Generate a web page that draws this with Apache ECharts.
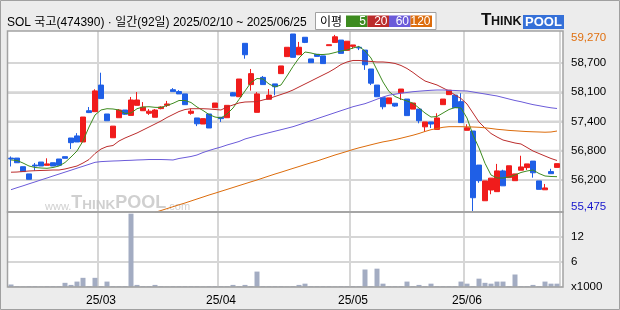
<!DOCTYPE html>
<html><head><meta charset="utf-8">
<script src="https://cdn.jsdelivr.net/npm/echarts@6/dist/echarts.min.js"></script>
<style>
html,body{margin:0;padding:0;background:#ececec}
#wrap{position:relative;width:620px;height:310px;background:#ececec}
#panel{position:absolute;left:8px;top:31px;width:555px;height:256px;background:#fff}
#c{position:absolute;left:0;top:0;width:620px;height:310px}
</style>
</head><body><div id="wrap"><div id="panel"></div><div id="c"></div></div><script>
const dates = [
'25/02/10','25/02/11','25/02/12','25/02/13','25/02/14','25/02/17','25/02/18','25/02/19','25/02/20','25/02/21','25/02/24','25/02/25','25/02/26','25/02/27','25/02/28',
'25/03/04','25/03/05','25/03/06','25/03/07','25/03/10','25/03/11','25/03/12','25/03/13','25/03/14','25/03/17','25/03/18','25/03/19','25/03/20','25/03/21','25/03/24','25/03/25','25/03/26','25/03/27','25/03/28','25/03/31',
'25/04/01','25/04/02','25/04/03','25/04/04','25/04/07','25/04/08','25/04/09','25/04/10','25/04/11','25/04/14','25/04/15','25/04/16','25/04/17','25/04/18','25/04/21','25/04/22','25/04/23','25/04/24','25/04/25','25/04/28','25/04/29','25/04/30',
'25/05/02','25/05/07','25/05/08','25/05/09','25/05/12','25/05/13','25/05/14','25/05/15','25/05/16','25/05/19','25/05/20','25/05/21','25/05/22','25/05/23','25/05/26','25/05/27','25/05/28','25/05/29','25/05/30',
'25/06/02','25/06/04','25/06/05','25/06/09','25/06/10','25/06/11','25/06/12','25/06/13','25/06/16','25/06/17','25/06/18','25/06/19','25/06/20','25/06/23','25/06/24','25/06/25'
];
const open = [56610,56610,56425,56270,56460,56525,56455,56510,56590,56640,
57040,57085,56955,57625,57605,58175,57555,57045,57475,57640,
57525,57740,57625,57570,57485,57670,57740,58075,58035,57985,
57570,57470,57340,57555,57690,57485,57475,58010,57925,59070,
58185,57590,58340,57870,58200,58420,58785,59270,58825,59200,
58735,58835,58800,59020,59090,59140,58920,59005,58985,58925,
58520,58175,57905,57775,57785,58010,57875,57660,57660,57280,
57385,57225,57755,57970,57960,57820,57205,57190,56460,55695,
55925,55890,56335,56190,56125,56350,56405,56545,56120,55930,
56320,56410];
const close = [56590,56510,56320,56155,56440,56440,56485,56440,56455,56605,
56940,56955,57490,57585,58050,57885,57410,57295,57640,57550,
57855,57855,57700,57615,57640,57705,57770,58035,57985,57755,
57615,57345,57455,57255,57790,57455,57740,57940,58305,58825,
58420,57985,58185,57960,58140,58585,58985,58770,58985,59090,
58655,58790,58635,59040,59210,58855,59115,59035,58970,58610,
58215,57925,57710,57900,57725,58090,57520,57790,57410,57385,
57340,57470,57875,58065,57690,57370,57260,55760,56125,56120,
56180,56335,56015,56445,56270,56420,56485,56295,55940,55970,
56275,56490];
const low = [56430,56510,56320,56155,56340,56440,56455,56440,56455,56605,
56805,56955,56955,57575,57605,57885,57410,57045,57475,57535,
57525,57740,57625,57535,57485,57655,57705,58035,57985,57755,
57540,57295,57340,57255,57690,57385,57475,57940,57925,58740,
58055,57590,58185,57870,57955,58420,58785,58770,58825,59075,
58655,58790,58635,59020,59090,58855,58920,58955,58925,58500,
58175,57925,57655,57775,57710,57855,57520,57660,57355,57175,
57255,57225,57755,57970,57690,57370,57205,55475,56080,55695,
55835,55890,56015,56190,56125,56350,56355,56190,55940,55930,
56275,56410];
const high = [56645,56610,56425,56270,56505,56525,56605,56510,56590,56640,
57040,57145,57490,57705,58085,58440,57555,57295,57660,57640,
57920,58025,57810,57660,57660,57720,57835,58110,58065,57985,
57670,57470,57455,57555,57790,57485,57740,58025,58305,59070,
58520,58025,58370,58090,58200,58585,58985,59270,59100,59200,
58735,58835,58800,59040,59250,59140,59115,59035,59015,58925,
58520,58175,57905,57900,57785,58090,57875,57790,57660,57385,
57385,57570,57875,58065,57960,58000,57335,57190,56460,56120,
56180,56485,56360,56445,56270,56660,56485,56545,56120,56055,
56380,56490];
const volume = [600,200,150,200,200,150,200,200,200,1000,
500,1300,2200,200,2200,200,1300,200,200,200,
17600,500,200,200,500,200,150,200,200,200,
200,200,150,200,200,200,200,500,200,500,
200,3700,200,200,200,200,150,200,500,800,
200,200,200,200,150,200,200,200,200,4200,
200,4400,800,200,200,200,1300,200,500,200,
800,200,200,200,200,1300,800,200,2000,1000,
800,1300,1300,200,3000,200,200,500,200,1300,
800,800];
const ma5 = [56569,56558,56504,56440,56408,56397,56391,56408,56440,56515,
56633,56762,56976,57276,57533,57641,57668,57662,57641,57566,
57576,57668,57705,57711,57698,57694,57737,57784,57844,57844,
57801,57705,57630,57544,57490,57469,57555,57683,57866,58048,
58230,58316,58305,58198,58134,58177,58370,58573,58755,58884,
58863,58830,58830,58841,58873,58906,58927,58970,59002,58906,
58755,58498,58241,58037,57930,57876,57834,57784,57683,57576,
57490,57501,57576,57651,57694,57683,57469,57105,56826,56498,
56247,56183,56183,56204,56247,56301,56333,56354,56279,56226,
56215,56211];
const ma20 = [56307,56311,56322,56333,56339,56344,56348,56354,56354,56376,
56408,56440,56504,56579,56708,56804,56858,56879,56976,57040,
57094,57148,57212,57276,57340,57405,57480,57544,57608,57651,
57668,57668,57668,57662,57651,57641,57705,57748,57791,57812,
57816,57819,57855,57887,57930,57973,58016,58069,58134,58198,
58262,58327,58391,58455,58530,58616,58670,58702,58702,58691,
58681,58670,58670,58659,58638,58595,58530,58445,58348,58262,
58219,58177,58112,58048,57962,57887,57769,57576,57383,57255,
57137,57062,56997,56965,56933,56912,56837,56762,56708,56654,
56601,56558];
const ma60 = [55932,55975,56015,56058,56099,56142,56183,56226,56267,56309,
56350,56393,56434,56476,56519,56534,56541,56547,56551,56558,
56562,56569,56573,56579,56579,56579,56575,56569,56601,56622,
56644,56676,56729,56772,56811,56847,56890,56927,56965,57019,
57055,57090,57122,57154,57186,57218,57250,57283,57325,57368,
57411,57454,57497,57540,57583,57626,57668,57711,57744,57776,
57823,57872,57919,57958,57979,58001,58016,58033,58044,58054,
58063,58069,58069,58063,58059,58052,58048,58027,58005,57984,
57962,57941,57909,57876,57844,57818,57786,57756,57733,57709,
57688,57673];
const ma120 = [null,null,null,null,null,null,null,null,null,null,
null,null,null,null,null,null,null,null,null,null,
null,null,null,null,55445,55486,55527,55567,55608,55647,
55690,55733,55775,55818,55857,55898,55938,55979,56020,56060,
56101,56140,56183,56226,56268,56307,56348,56389,56429,56470,
56509,56547,56590,56633,56676,56714,56753,56794,56830,56862,
56895,56927,56957,56980,57006,57036,57068,57100,57137,57180,
57218,57244,57270,57283,57283,57283,57280,57276,57270,57259,
57244,57227,57216,57203,57195,57186,57178,57173,57169,57164,
57169,57190];
const tickLabels = ['58,700','58,100','57,400','56,800','56,200'];
const volLabels = ['','12','6','x1000'];
const maNames = ['5','20','60','120'];
const maColors = ['#3d8b1f','#bb2c2c','#6b5bd9','#dc6c0c'];

const FONT = "'Liberation Sans', Arial, sans-serif";
const KFONT = "'Liberation Sans', 'Noto Sans CJK KR', sans-serif";
const candles = open.map((o,i)=>[o, close[i], low[i], high[i]]);
const hi = Math.max(...high), lo = Math.min(...low);
const fmt = n => n.toLocaleString('en-US');
const monthStart = i => i > 0 && dates[i].slice(0,5) !== dates[i-1].slice(0,5);
const blanks = dates.map(()=>null);

const extremeMarks = [
  {yAxis:hi, label:{formatter:fmt(hi), color:'#e07010', offset:[0,4]}},
  {yAxis:lo, label:{formatter:fmt(lo), color:'#1515cc', offset:[0,-4]}}
];

const maSeries = [ma5, ma20, ma60, ma120].map((d,k)=>({
  type:'line', name:'MA'+maNames[k], xAxisIndex:0, yAxisIndex:0, data:d,
  showSymbol:false, symbol:'none', silent:true, z:4,
  lineStyle:{color:maColors[k], width:1}
}));

const legendEls = [];
const boxX = [346, 367.5, 389, 410.5], boxW = [21.5, 21.5, 21.5, 21.5];
maNames.forEach((n,k)=>{
  legendEls.push({type:'rect', shape:{x:boxX[k], y:15.5, width:boxW[k], height:11.5}, style:{fill:maColors[k]}, z:50});
  legendEls.push({type:'text', x:boxX[k]+boxW[k]-1.5, y:21.5, style:{text:n, fill:'#fff', font:'12px '+FONT, align:'right', verticalAlign:'middle', textAlign:'right', textVerticalAlign:'middle'}, z:51});
});

const GRID_COLOR = '#d6d6d6';
const gridLine = () => ({color:GRID_COLOR, width:2, type:'solid'});
const labelAxis = (gridIndex, labels, margin) => ({
  type:'category', gridIndex, data:labels.slice().reverse(), boundaryGap:false, position:'right',
  axisLine:{show:false}, axisTick:{show:false},
  splitLine:{show:true, interval:0, lineStyle:gridLine()},
  axisLabel:{show:true, interval:0, margin, color:'#000', fontSize:11.5, fontFamily:FONT, align:'left'}
});
const baseGraphic = [
  {type:'rect', shape:{x:7.5, y:31, width:555.5, height:181}, style:{fill:'none', stroke:'#a2a2a2', lineWidth:1.5}, z:100},
  {type:'rect', shape:{x:7.5, y:212, width:555.5, height:75}, style:{fill:'none', stroke:'#a2a2a2', lineWidth:1.5}, z:100},
  {type:'rect', shape:{x:0.5, y:0.5, width:619, height:309}, style:{fill:'none', stroke:'#a0a0a0', lineWidth:1}, z:100},
  {type:'text', x:7, y:22.5, style:{text:'SOL 국고(474390) · 일간(92일) 2025/02/10 ~ 2025/06/25', fill:'#000', font:'12px '+KFONT, verticalAlign:'middle', textVerticalAlign:'middle'}, z:50},
  {type:'rect', shape:{x:315.5, y:12.5, width:120.5, height:17}, style:{fill:'#fff', stroke:'#a0a0a0', lineWidth:1}, z:49},
  {type:'text', x:320, y:21.5, style:{text:'이평', fill:'#000', font:"12px 'Noto Sans CJK KR', sans-serif", verticalAlign:'middle', textVerticalAlign:'middle'}, z:50},
  ...legendEls,
  {type:'text', x:481, y:28.5, style:{text:'T', fill:'#111', font:'bold 17px '+FONT, verticalAlign:'bottom', textVerticalAlign:'bottom'}, z:50},
  {type:'text', x:491, y:28.5, style:{text:'HINK', fill:'#111', font:'bold 12.5px '+FONT, verticalAlign:'bottom', textVerticalAlign:'bottom'}, z:50},
  {type:'rect', shape:{x:523, y:15, width:41, height:14}, style:{fill:'#3570d8'}, z:50},
  {type:'text', x:543.5, y:22.5, style:{text:'POOL', fill:'#fff', font:'bold 13px '+FONT, align:'center', textAlign:'center', verticalAlign:'middle', textVerticalAlign:'middle'}, z:51},
  {type:'text', x:45, y:212, style:{text:'{a|www.}{b|T}{c|HINK}{b|POOL}{a|.com}', fill:'#bdbdbd', opacity:0.8, verticalAlign:'bottom', textVerticalAlign:'bottom',
    rich:{a:{fontSize:11, fontFamily:FONT, fill:'#c4c4c4', verticalAlign:'bottom'}, b:{fontSize:18, fontWeight:'bold', fontFamily:FONT, fill:'#c4c4c4', verticalAlign:'bottom'}, c:{fontSize:13.5, fontWeight:'bold', fontFamily:FONT, fill:'#c4c4c4', verticalAlign:'bottom'}}}, z:2}
];
const option = {
  animation:false,
  backgroundColor:'transparent',
  grid:[
    {left:8, top:31, width:552, height:181, show:false},
    {left:8, top:212, width:552, height:75, show:false},
    {left:8, top:63, width:555, height:117, show:false},
    {left:8, top:212, width:555, height:75, show:false}
  ],
  xAxis:[
    {type:'category', gridIndex:0, data:dates, boundaryGap:true,
     axisLine:{show:false}, axisTick:{show:false}, axisLabel:{show:false},
     splitLine:{show:true, interval:(i)=>monthStart(i), lineStyle:gridLine()}},
    {type:'category', gridIndex:1, data:dates, boundaryGap:true,
     axisLine:{show:false}, axisTick:{show:false},
     axisLabel:{show:true, interval:(i)=>monthStart(i), formatter:v=>v.slice(0,5), margin:8, color:'#000', fontSize:12, fontFamily:FONT},
     splitLine:{show:true, interval:(i)=>monthStart(i), lineStyle:gridLine()}},
    {type:'value', gridIndex:2, min:0, max:1, show:false},
    {type:'value', gridIndex:3, min:0, max:1, show:false}
  ],
  yAxis:[
    {type:'value', gridIndex:0, min:55454, max:59334, show:false},
    {type:'value', gridIndex:1, min:0, max:18000, show:false},
    labelAxis(2, tickLabels, 8),
    labelAxis(3, volLabels, 8)
  ],
  series:[
    {type:'line', xAxisIndex:0, yAxisIndex:0, data:blanks, z:1, silent:true, showSymbol:false,
     markLine:{silent:true, symbol:'none', animation:false, z:1,
       lineStyle:{color:'rgba(255,255,255,0)', width:0.1, type:'solid'},
       label:{show:true, position:'end', distance:11, fontSize:11.5, fontFamily:FONT},
       data:extremeMarks}},
    {type:'candlestick', xAxisIndex:0, yAxisIndex:0, data:candles, barWidth:5, z:3, silent:true,
     itemStyle:{color:'#f01c1c', color0:'#1f5fe6', borderColor:'#f01c1c', borderColor0:'#1f5fe6', borderWidth:1}},
    ...maSeries,
    {type:'bar', xAxisIndex:1, yAxisIndex:1, data:volume, barWidth:5, silent:true, z:3,
     itemStyle:{color:'#a3acc2'}}
  ],
  graphic:baseGraphic
};
const chart = echarts.init(document.getElementById('c'), null, {renderer:'canvas'});
chart.setOption(option);

// horizontal grid bands placed through the label axes' own scales
const bands = [];
const addBands = (xi, yi, labels) => {
  const x0 = chart.convertToPixel({xAxisIndex:xi}, 0);
  const x1 = chart.convertToPixel({xAxisIndex:xi}, 1);
  labels.forEach(t => {
    const y = chart.convertToPixel({yAxisIndex:yi}, t);
    if (isFinite(y) && isFinite(x0) && isFinite(x1)) {
      bands.push({type:'rect', shape:{x:x0, y:y-1, width:x1-x0, height:2}, style:{fill:GRID_COLOR}, silent:true, z:1});
    }
  });
};
addBands(2, 2, tickLabels);
addBands(3, 3, ['12','6']);
chart.setOption({graphic:[...baseGraphic, ...bands]});
</script></body></html>
